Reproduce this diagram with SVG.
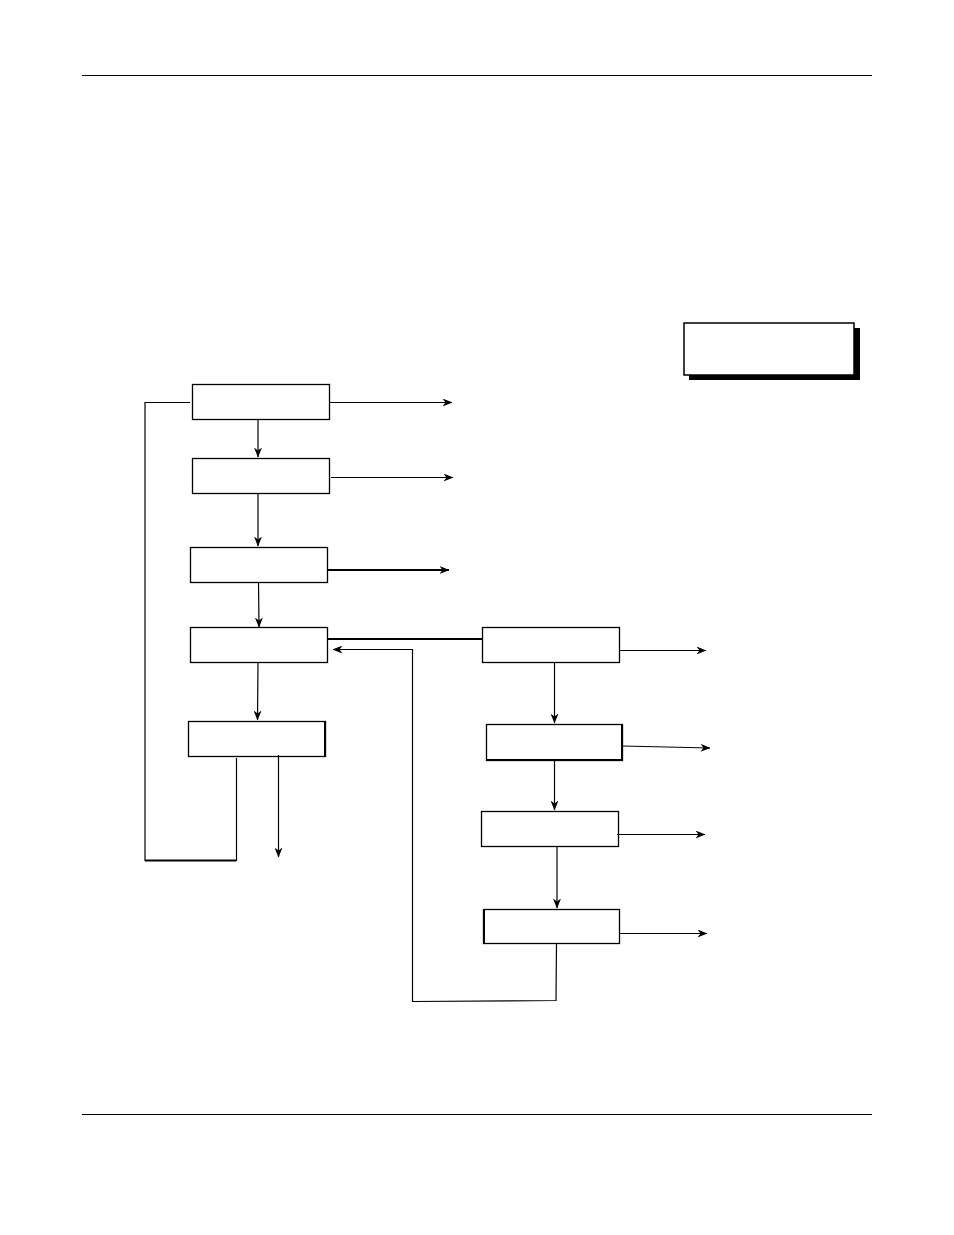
<svg xmlns="http://www.w3.org/2000/svg" width="954" height="1235" viewBox="0 0 954 1235">
<style>
.box{fill:#fff;stroke:#000;stroke-width:1.3}
.ln{fill:none;stroke:#000;stroke-width:1.2}
.thk{fill:none;stroke:#000;stroke-width:2.2}
.rule{stroke:#000;stroke-width:1}
</style>
<defs>
<marker id="ah" viewBox="0 0 10 8" refX="9.5" refY="4" markerWidth="10" markerHeight="8" markerUnits="userSpaceOnUse" orient="auto">
<path d="M0,0 L10,4 L0,8 L3,4 z" fill="#000"/>
</marker>
</defs>
<rect width="954" height="1235" fill="#fff"/>
<line class="rule" x1="82" y1="75.5" x2="872" y2="75.5"/>
<line class="rule" x1="82" y1="1114.5" x2="872" y2="1114.5"/>

<g id="legend">
<rect x="689" y="328" width="171" height="52" fill="#000"/>
<rect x="684" y="323" width="170" height="52" fill="#fff" stroke="#000" stroke-width="1.5"/>
</g>

<g id="b1"><rect class="box" x="192.5" y="384.5" width="137" height="35"/></g>
<g id="b2"><rect class="box" x="192.5" y="458.5" width="137" height="35"/></g>
<g id="b3"><rect class="box" x="190.5" y="547.5" width="137" height="35"/></g>
<g id="b4"><rect class="box" x="190.5" y="627.5" width="137" height="35"/></g>
<g id="b5"><rect class="box" x="188.5" y="721.5" width="137" height="35"/><line x1="325" y1="721" x2="325" y2="757" stroke="#000" stroke-width="2"/></g>
<g id="r1"><rect class="box" x="482.5" y="627.5" width="137" height="35"/></g>
<g id="r2"><rect class="box" x="486.5" y="724.5" width="136" height="36"/><path d="M486,760 H622 V724" fill="none" stroke="#000" stroke-width="2"/></g>
<g id="r3"><rect class="box" x="481.5" y="811.5" width="137" height="35"/></g>
<g id="r4"><rect class="box" x="483.5" y="909.5" width="136" height="34"/><line x1="484" y1="909" x2="484" y2="944" stroke="#000" stroke-width="2"/></g>

<g id="connectors">
<line class="ln" x1="330" y1="402.5" x2="452" y2="402.5" marker-end="url(#ah)"/>
<line class="ln" x1="331" y1="477.5" x2="453" y2="477.5" marker-end="url(#ah)"/>
<line class="thk" x1="327" y1="570" x2="449" y2="570" marker-end="url(#ah)"/>
<line class="ln" x1="258" y1="420" x2="258" y2="457" marker-end="url(#ah)"/>
<line class="ln" x1="258" y1="493" x2="258" y2="546" marker-end="url(#ah)"/>
<line class="ln" x1="258.5" y1="582" x2="259" y2="627" marker-end="url(#ah)"/>
<line class="ln" x1="258" y1="662" x2="257.5" y2="720" marker-end="url(#ah)"/>
<polyline class="ln" points="236.5,758 236.5,860.5 145,860.5 145,402.5 190,402.5"/>
<line x1="145" y1="860.5" x2="236" y2="860.5" stroke="#000" stroke-width="2"/>
<line class="ln" x1="278.5" y1="755" x2="278.5" y2="857" marker-end="url(#ah)"/>
<line class="thk" x1="327" y1="639" x2="482" y2="639"/>
<polyline class="ln" points="556.5,944 556,1000.5 412.5,1001.5 412.5,649.5 333,649.5" marker-end="url(#ah)"/>
<line class="ln" x1="554.5" y1="662" x2="554.5" y2="723" marker-end="url(#ah)"/>
<line class="ln" x1="554.5" y1="760" x2="554.5" y2="810" marker-end="url(#ah)"/>
<line class="ln" x1="557" y1="846" x2="557" y2="908" marker-end="url(#ah)"/>
<line class="ln" x1="619" y1="650.5" x2="706" y2="650.5" marker-end="url(#ah)"/>
<line class="ln" x1="622" y1="746" x2="710" y2="748" marker-end="url(#ah)"/>
<line class="ln" x1="617" y1="834.5" x2="705" y2="834.5" marker-end="url(#ah)"/>
<line class="ln" x1="619" y1="933.5" x2="707" y2="933.5" marker-end="url(#ah)"/>
</g>
</svg>
